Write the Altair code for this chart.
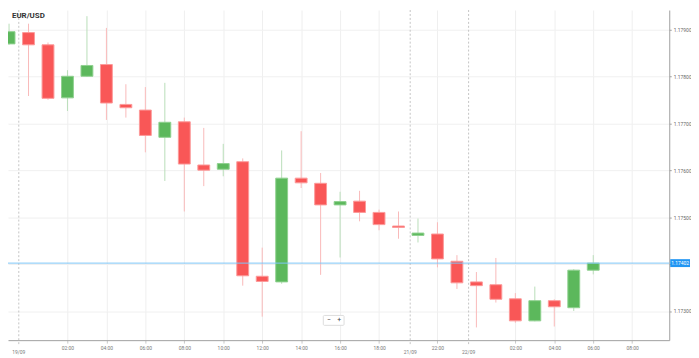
import json
import altair as alt
import pandas as pd

# ---------------- data ----------------
title_text = ["EUR/USD"]
slots = [-1, 0, 1, 2, 3, 4, 5, 6, 7, 8, 9, 10, 11, 12, 13, 14, 15, 16, 17, 18,
         19, 20, 21, 22, 23, 24, 25, 26, 27, 28, 29]
opens = [1.17869, 1.17893, 1.17867, 1.17754, 1.17800, 1.17825, 1.17740, 1.17728,
         1.17670, 1.17703, 1.17611, 1.17602, 1.17618, 1.17374, 1.17362, 1.17583,
         1.17572, 1.17526, 1.17534, 1.17510, 1.17481, 1.17461, 1.17464, 1.17406,
         1.17362, 1.17356, 1.17326, 1.17279, 1.17322, 1.17307, 1.17387]
highs = [1.17912, 1.17912, 1.17872, 1.17813, 1.17928, 1.17903, 1.17783, 1.17777,
         1.17786, 1.17712, 1.17690, 1.17656, 1.17625, 1.17435, 1.17642, 1.17683,
         1.17594, 1.17554, 1.17556, 1.17516, 1.17512, 1.17497, 1.17489, 1.17419,
         1.17383, 1.17413, 1.17338, 1.17352, 1.17325, 1.17389, 1.17419]
lows = [1.17867, 1.17758, 1.17750, 1.17726, 1.17799, 1.17707, 1.17712, 1.17638,
        1.17577, 1.17512, 1.17566, 1.17587, 1.17354, 1.17288, 1.17358, 1.17562,
        1.17377, 1.17414, 1.17491, 1.17472, 1.17454, 1.17446, 1.17393, 1.17347,
        1.17265, 1.17318, 1.17275, 1.17278, 1.17267, 1.17300, 1.17378]
closes = [1.17895, 1.17867, 1.17753, 1.17800, 1.17823, 1.17743, 1.17733, 1.17674,
          1.17702, 1.17613, 1.17600, 1.17614, 1.17375, 1.17363, 1.17583, 1.17573,
          1.17526, 1.17533, 1.17510, 1.17484, 1.17478, 1.17466, 1.17411, 1.17360,
          1.17354, 1.17325, 1.17279, 1.17322, 1.17309, 1.17387, 1.17402]

tick_pos = [2, 4, 6, 8, 10, 12, 14, 16, 18, 21, 25, 27, 29, 31]
tick_labels = ["02:00", "04:00", "06:00", "08:00", "10:00", "12:00", "14:00",
               "16:00", "18:00", "22:00", "02:00", "04:00", "06:00", "08:00"]
date_pos = [-0.5, 19.6, 22.6]
date_labels = ["19/09", "21/09", "22/09"]
price_ticks = [1.173, 1.174, 1.175, 1.176, 1.177, 1.178, 1.179]
last_price = [1.17402]
zoom_labels = ["\u2212", "+"]

# ---------------- layout ----------------
W, H = 669, 334
FONT = "Roboto"

df = pd.DataFrame(dict(slot=slots, open=opens, high=highs, low=lows, close=closes))
up = df["close"] >= df["open"]
df["body_color"] = up.map({True: "#5cb85c", False: "#f95757"})
df["edge_color"] = up.map({True: "#8fd08f", False: "#fc9a9a"})
df["wick_color"] = up.map({True: "#b9deb9", False: "#f9b9b9"})

xs = alt.Scale(domain=[-0.8, 32.65], nice=False, zero=False)
ys = alt.Scale(domain=[1.172379, 1.179411], nice=False, zero=False)

label_expr = f"{json.dumps(tick_labels)}[indexof({json.dumps(tick_pos)}, datum.value)]"
x_axis = alt.Axis(values=tick_pos, labelExpr=label_expr, grid=True, gridColor="#efefef",
                  domainColor="#a0a0a0", tickColor="#c8c8c8", tickSize=3,
                  labelFontSize=5, labelColor="#777777", labelPadding=2, title=None,
                  labelFont=FONT)
# the label hidden behind the last-price box is left blank (as in the reference)
y_label_expr = f"abs(datum.value - {last_price[0]}) < 0.0002 ? '' : format(datum.value, '.5f')"
y_axis = alt.Axis(orient="right", values=price_ticks, labelExpr=y_label_expr, grid=True,
                  gridColor="#f0f0f0", domainColor="#a0a0a0", tickColor="#a0a0a0",
                  tickSize=2, labelFontSize=5, labelColor="#666666", labelPadding=2,
                  title=None, labelFont=FONT)

x_enc = alt.X("slot:Q", scale=xs, axis=x_axis)

wicks = alt.Chart(df).mark_rule(strokeWidth=1, clip=True).encode(
    x=x_enc,
    y=alt.Y("low:Q", scale=ys, axis=y_axis),
    y2="high:Q",
    color=alt.Color("wick_color:N", scale=None),
)

bodies = alt.Chart(df).mark_bar(width=12, strokeWidth=1, clip=True).encode(
    x=x_enc,
    y=alt.Y("open:Q", scale=ys, axis=y_axis),
    y2="close:Q",
    fill=alt.Fill("body_color:N", scale=None),
    stroke=alt.Stroke("edge_color:N", scale=None),
)

dates_df = pd.DataFrame(dict(slot=date_pos, label=date_labels))
date_rules = alt.Chart(dates_df).mark_rule(strokeDash=[2, 2], color="#c4c4c4", strokeWidth=1).encode(
    x=x_enc, y=alt.value(0), y2=alt.value(H + 6)
)
date_text = alt.Chart(dates_df).mark_text(fontSize=5, color="#777777", baseline="middle",
                                          font=FONT).encode(
    x=x_enc, y=alt.value(H + 12), text="label:N"
)

price_df = pd.DataFrame(dict(price=last_price))
price_line = alt.Chart(price_df).mark_rule(color="#7cc5f7", strokeWidth=1).encode(
    y=alt.Y("price:Q", scale=ys, axis=y_axis), x=alt.value(0), x2=alt.value(W)
)
price_box = alt.Chart(price_df).mark_rule(color="#2196f3", strokeWidth=8, strokeCap="butt").encode(
    y=alt.Y("price:Q", scale=ys, axis=y_axis), x=alt.value(W + 1), x2=alt.value(W + 21)
)
price_text = alt.Chart(price_df).mark_text(color="white", fontSize=5, align="center",
                                           baseline="middle", font=FONT).encode(
    y=alt.Y("price:Q", scale=ys, axis=y_axis), x=alt.value(W + 11),
    text=alt.Text("price:Q", format=".5f")
)

title_df = pd.DataFrame(dict(t=title_text))
title = alt.Chart(title_df).mark_text(align="left", baseline="middle", fontSize=8,
                                      fontWeight="bold", color="#333333", font=FONT).encode(
    x=alt.value(4), y=alt.value(6), text="t:N"
)

zoom_df = pd.DataFrame(dict(lbl=zoom_labels, px=[325, 335]))
zoom_box = alt.Chart(pd.DataFrame(dict(a=[0]))).mark_rect(
    fill="white", stroke="#dddddd", strokeWidth=1, cornerRadius=1
).encode(x=alt.value(319), x2=alt.value(340), y=alt.value(309), y2=alt.value(319))
zoom_text = alt.Chart(zoom_df).mark_text(fontSize=7, color="#444444", baseline="middle",
                                         align="center", font=FONT).encode(
    x=alt.X("px:Q", scale=None, axis=None), y=alt.value(314), text="lbl:N"
)

chart = alt.layer(
    date_rules, wicks, bodies, price_line, price_box, price_text,
    date_text, title, zoom_box, zoom_text
).properties(
    width=W, height=H,
    autosize=alt.AutoSizeParams(type="none"),
    padding={"left": 0, "top": 0, "right": 22, "bottom": 16},
).configure_view(stroke=None)

chart.save("out.html", embed_options={"renderer": "svg", "actions": False})
